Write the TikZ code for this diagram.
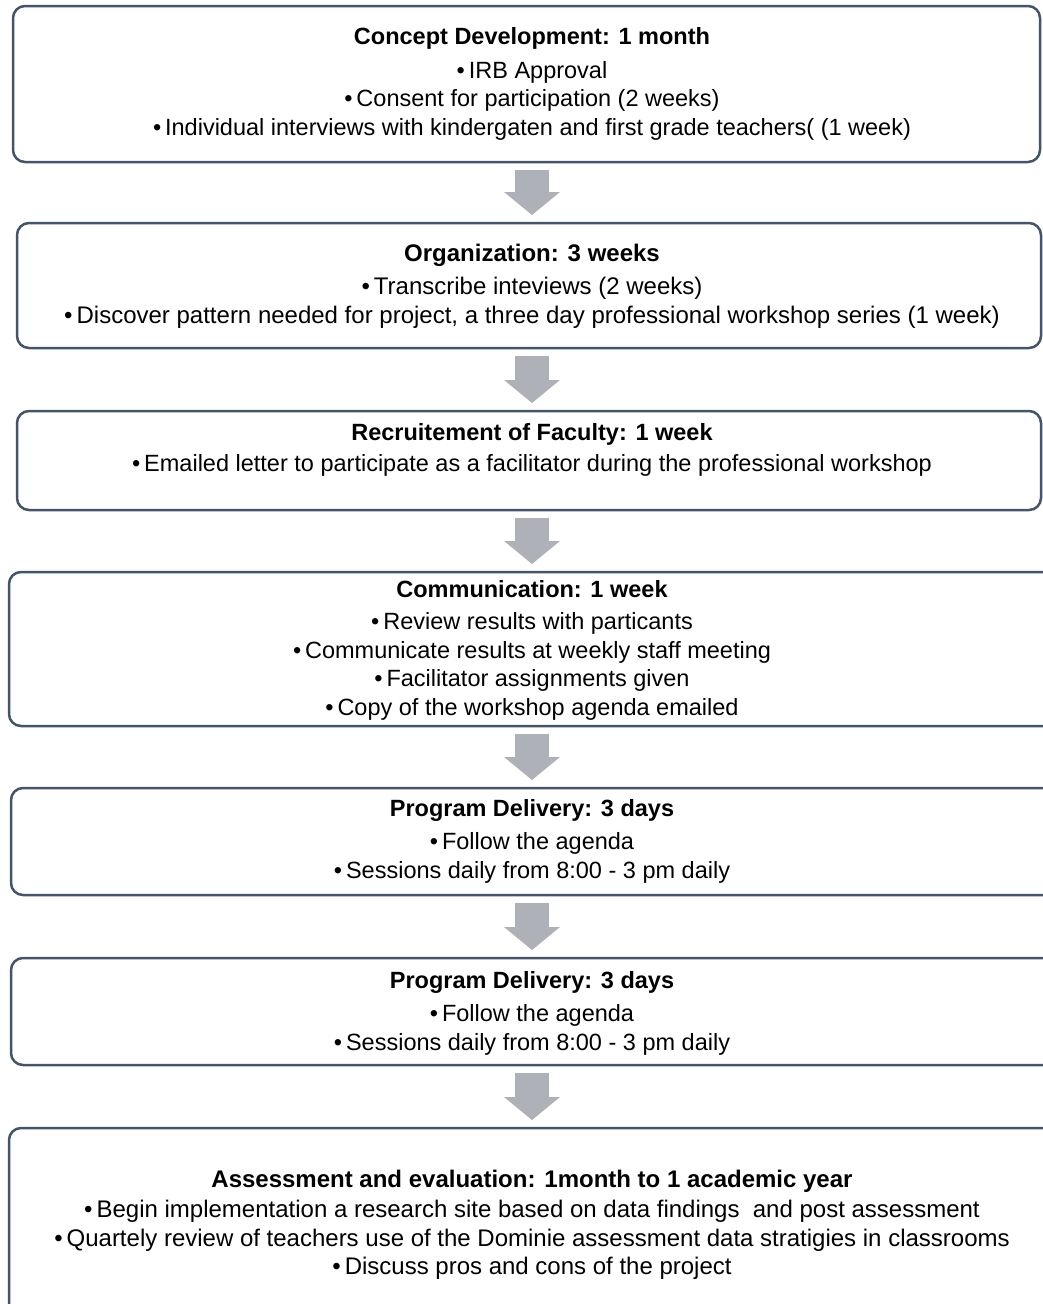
\documentclass[tikz,border=0pt]{standalone}
\usepackage{fontspec}
\setmainfont{Liberation Sans}
\usetikzlibrary{arrows.meta,calc}
\definecolor{boxline}{RGB}{68,84,106}
\definecolor{arrowgray}{RGB}{174,177,184}
\begin{document}
\begin{tikzpicture}[x=1pt,y=1pt,
  stagebox/.style={draw=boxline, line width=2.5pt, rounded corners=12pt, fill=white, inner sep=0pt, outer sep=0pt},
  stagetext/.style={align=center, inner sep=0pt, font=\fontsize{23.5}{28.5}\selectfont},
  bigtext/.style={stagetext, font=\fontsize{24}{28.5}\selectfont},
  blockarrow/.style={draw=arrowgray, line width=34pt, line cap=butt, -{Triangle[width=56pt,length=23pt,line width=0pt]}}
]
\useasboundingbox (0,0) rectangle (1042,-1304);
\coordinate (ax) at (532,0);

\node[stagebox, minimum width=1027pt, minimum height=156pt] (b1) at (526.5,-84) {};
\node[stagebox, minimum width=1024pt, minimum height=125pt] (b2) at (529,-285.5) {};
\node[stagebox, minimum width=1024pt, minimum height=99pt] (b3) at (529,-460.5) {};
\node[stagebox, minimum width=1061pt, minimum height=154pt] (b4) at (539.5,-649) {};
\node[stagebox, minimum width=1059pt, minimum height=107pt] (b5) at (540.5,-841.5) {};
\node[stagebox, minimum width=1059pt, minimum height=107pt] (b6) at (540.5,-1011.5) {};
\node[stagebox, minimum width=1061pt, minimum height=192pt] (b7) at (539.5,-1224) {};

\node[stagetext] (t1) at (532,-84) {\textbf{Concept Development: 1 month}\\[5pt]
  •\,IRB Approval\\
  •\,Consent for participation (2 weeks)\\
  •\,Individual interviews with kindergaten and first grade teachers( (1 week)};
\node[bigtext] (t2) at (532,-286) {\textbf{Organization: 3 weeks}\\[5pt]
  •\,Transcribe inteviews (2 weeks)\\
  •\,Discover pattern needed for project, a three day professional workshop series (1 week)};
\node[stagetext] (t3) at (532,-450) {\textbf{Recruitement of Faculty: 1 week}\\[2pt]
  •\,Emailed letter to participate as a facilitator during the professional workshop};
\node[stagetext] (t4) at (532,-650) {\textbf{Communication: 1 week}\\[4pt]
  •\,Review results with particants\\
  •\,Communicate results at weekly staff meeting\\
  •\,Facilitator assignments given\\
  •\,Copy of the workshop agenda emailed};
\node[stagetext] (t5) at (532,-841) {\textbf{Program Delivery: 3 days}\\[5pt]
  •\,Follow the agenda\\
  •\,Sessions daily from 8:00 - 3 pm daily};
\node[stagetext] (t6) at (532,-1013) {\textbf{Program Delivery: 3 days}\\[5pt]
  •\,Follow the agenda\\
  •\,Sessions daily from 8:00 - 3 pm daily};
\node[bigtext] (t7) at (532,-1225) {\textbf{Assessment and evaluation: 1month to 1 academic year}\\[2pt]
  •\,Begin implementation a research site based on data findings~ and post assessment\\
  •\,Quartely review of teachers use of the Dominie assessment data stratigies in classrooms\\
  •\,Discuss pros and cons of the project};

\draw[blockarrow] ($(b1.south -| ax)+(0,-7.5)$) -- ($(b2.north -| ax)+(0,8)$);
\draw[blockarrow] ($(b2.south -| ax)+(0,-7.5)$) -- ($(b3.north -| ax)+(0,8)$);
\draw[blockarrow] ($(b3.south -| ax)+(0,-7.5)$) -- ($(b4.north -| ax)+(0,8)$);
\draw[blockarrow] ($(b4.south -| ax)+(0,-7.5)$) -- ($(b5.north -| ax)+(0,8)$);
\draw[blockarrow] ($(b5.south -| ax)+(0,-7.5)$) -- ($(b6.north -| ax)+(0,8)$);
\draw[blockarrow] ($(b6.south -| ax)+(0,-7.5)$) -- ($(b7.north -| ax)+(0,8)$);
\end{tikzpicture}
\end{document}
